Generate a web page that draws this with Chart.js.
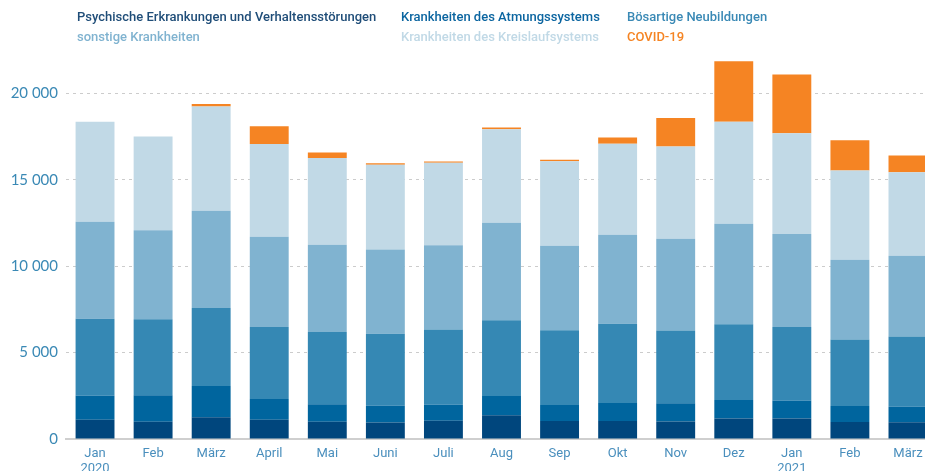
<!DOCTYPE html>
<html lang="de">
<head>
    <meta charset="UTF-8">
    <title>Todesfälle nach Ursache</title>
    <script src="https://cdn.jsdelivr.net/npm/chart.js"></script>
    <style>
        body {
            margin: 0;
            overflow: hidden;
            background: #fff;
            font-family: Roboto, Arial, sans-serif;
        }
        .wrap {
            position: relative;
            width: 937px;
            height: 471px;
        }
        .legend span {
            position: absolute;
            font-size: 13px;
            font-weight: 500;
            line-height: 20px;
            white-space: nowrap;
        }
        canvas {
            position: absolute;
            left: 0;
            top: 0;
        }
    </style>
</head>
<body>
    <div class="wrap">
        <canvas id="deathsChart" width="937" height="471"></canvas>
        <div class="legend" id="legend"></div>
    </div>

    <script>
        const months = [['Jan', '2020'], 'Feb', 'März', 'April', 'Mai', 'Juni', 'Juli', 'Aug', 'Sep', 'Okt', 'Nov', 'Dez', ['Jan', '2021'], 'Feb', 'März'];

        const psychisch = [1120, 1000, 1260, 1120, 1000, 950, 1060, 1370, 1040, 1040, 1020, 1180, 1180, 990, 970];
        const atmung = [1390, 1530, 1810, 1200, 1010, 980, 930, 1120, 930, 1050, 1050, 1080, 1040, 920, 900];
        const neubildungen = [4450, 4410, 4510, 4170, 4180, 4170, 4350, 4390, 4330, 4580, 4210, 4390, 4270, 3850, 4060];
        const sonstige = [5620, 5140, 5640, 5220, 5060, 4870, 4870, 5640, 4890, 5160, 5310, 5810, 5380, 4620, 4680];
        const kreislauf = [5780, 5440, 6030, 5370, 5020, 4910, 4790, 5410, 4890, 5270, 5340, 5900, 5830, 5170, 4830];
        const covid = [0, 0, 150, 1020, 310, 80, 60, 100, 90, 350, 1660, 3510, 3400, 1740, 970];

        const yTicks = [0, 5000, 10000, 15000, 20000];

        const seriesNames = [
            'Psychische Erkrankungen und Verhaltensstörungen',
            'Krankheiten des Atmungssystems',
            'Bösartige Neubildungen',
            'sonstige Krankheiten',
            'Krankheiten des Kreislaufsystems',
            'COVID-19'
        ];
        const seriesData = [psychisch, atmung, neubildungen, sonstige, kreislauf, covid];
        const barColors = ['#00467d', '#00659e', '#3588b4', '#80b3d0', '#c1d9e6', '#f58423'];
        const textColors = ['#1f4d78', '#0b65a0', '#3a89b5', '#80b3d0', '#c1d9e6', '#f58423'];

        // legend as plain text in three columns
        const legendPos = [[77, 7], [401, 7], [627, 7], [77, 27], [401, 27], [627, 27]];
        const legend = document.getElementById('legend');
        seriesNames.forEach((name, i) => {
            const s = document.createElement('span');
            s.textContent = name;
            s.style.color = textColors[i];
            s.style.left = legendPos[i][0] + 'px';
            s.style.top = legendPos[i][1] + 'px';
            legend.appendChild(s);
        });

        function fmt(v) {
            return String(v).replace(/\B(?=(\d{3})+(?!\d))/g, ' ');
        }

        const ctx = document.getElementById('deathsChart').getContext('2d');
        new Chart(ctx, {
            type: 'bar',
            data: {
                labels: months,
                datasets: seriesData.map((d, i) => ({
                    label: seriesNames[i],
                    data: d,
                    backgroundColor: barColors[i],
                    borderWidth: 0,
                    categoryPercentage: 1,
                    barPercentage: 0.67
                }))
            },
            options: {
                responsive: false,
                animation: false,
                layout: { padding: { top: 59, right: 0, bottom: 0, left: 0 } },
                plugins: {
                    legend: { display: false },
                    tooltip: { enabled: false }
                },
                scales: {
                    x: {
                        stacked: true,
                        grid: { display: false },
                        border: { display: true, color: '#cfcfcf', width: 2 },
                        ticks: {
                            color: '#4a8fbd',
                            font: { family: 'Roboto', size: 13, lineHeight: 1.1 },
                            padding: 0,
                            maxRotation: 0,
                            autoSkip: false
                        },
                        afterFit: (axis) => { axis.height = 32; }
                    },
                    y: {
                        stacked: true,
                        min: 0,
                        max: 22000,
                        afterBuildTicks: (axis) => {
                            axis.ticks = yTicks.map(v => ({ value: v }));
                        },
                        afterFit: (axis) => { axis.width = 66; },
                        grid: {
                            color: (c) => c.tick && c.tick.value === 0 ? 'rgba(0,0,0,0)' : '#cccccc',
                            lineWidth: 1,
                            drawTicks: false
                        },
                        border: { display: false, dash: [3, 4] },
                        ticks: {
                            color: '#3a89b5',
                            font: { family: 'Lato', size: 15 },
                            padding: 8,
                            callback: (v) => fmt(v)
                        }
                    }
                }
            }
        });
    </script>
</body>
</html>
